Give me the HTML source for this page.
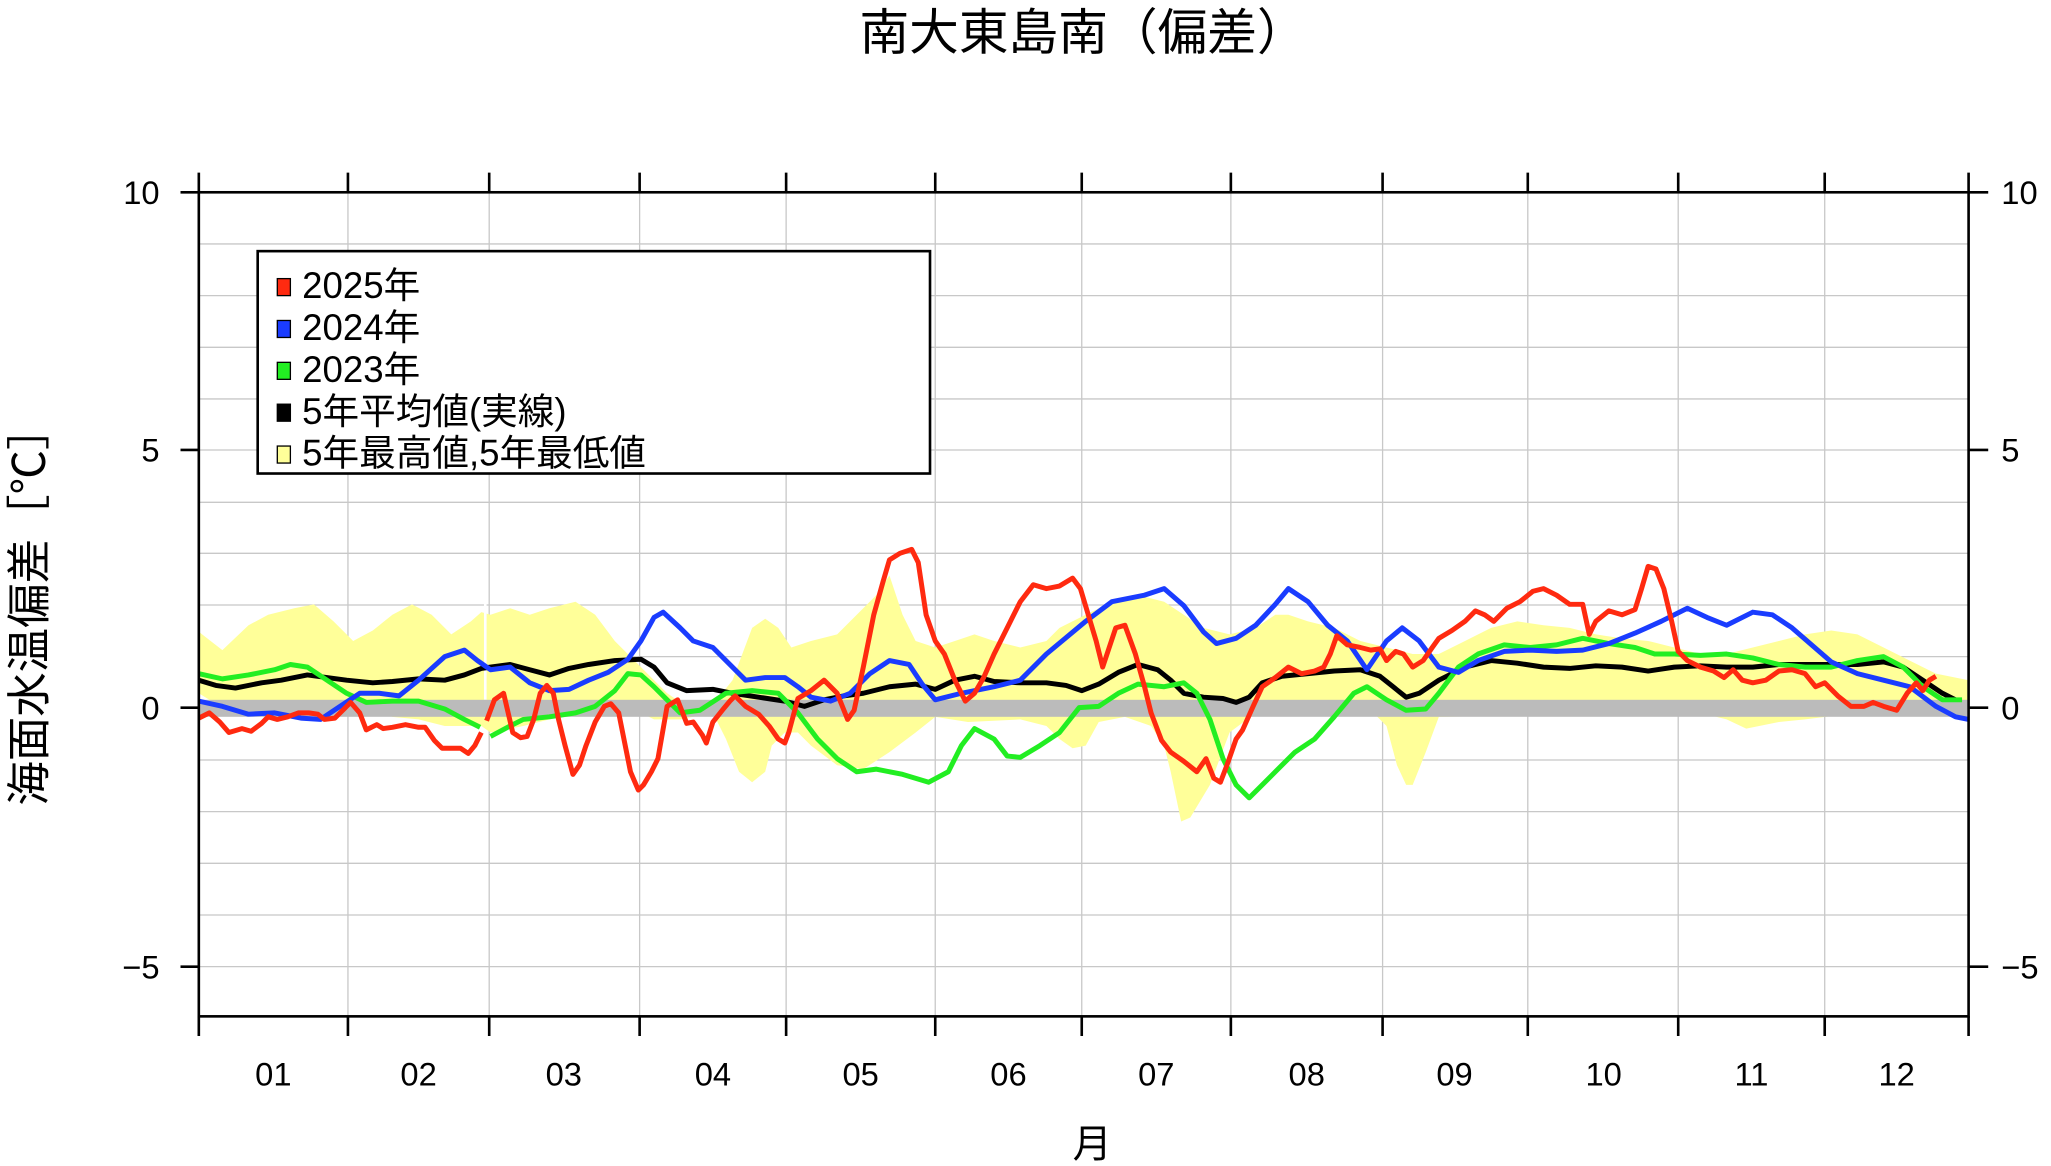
<!DOCTYPE html>
<html><head><meta charset="utf-8"><style>html,body{margin:0;padding:0;background:#fff}svg{display:block}text{font-family:"Liberation Sans","Noto Sans CJK JP",sans-serif;fill:#000}</style></head><body>
<svg width="2051" height="1166" viewBox="0 0 1568 891.4" preserveAspectRatio="none" xmlns="http://www.w3.org/2000/svg">
<text x="828" y="38" font-size="38" text-anchor="middle">南大東島南（偏差）</text>
<g stroke="#c8c8c8" stroke-width="1">
<line x1="152" x2="1505" y1="186.5" y2="186.5"/><line x1="152" x2="1505" y1="226" y2="226"/><line x1="152" x2="1505" y1="265.5" y2="265.5"/><line x1="152" x2="1505" y1="305" y2="305"/><line x1="152" x2="1505" y1="344" y2="344"/><line x1="152" x2="1505" y1="384" y2="384"/><line x1="152" x2="1505" y1="423" y2="423"/><line x1="152" x2="1505" y1="462.5" y2="462.5"/><line x1="152" x2="1505" y1="502" y2="502"/><line x1="152" x2="1505" y1="581" y2="581"/><line x1="152" x2="1505" y1="620.5" y2="620.5"/><line x1="152" x2="1505" y1="660" y2="660"/><line x1="152" x2="1505" y1="699.5" y2="699.5"/><line x1="152" x2="1505" y1="739" y2="739"/>
<line x1="266" x2="266" y1="147" y2="777"/><line x1="374" x2="374" y1="147" y2="777"/><line x1="489" x2="489" y1="147" y2="777"/><line x1="601" x2="601" y1="147" y2="777"/><line x1="715" x2="715" y1="147" y2="777"/><line x1="827" x2="827" y1="147" y2="777"/><line x1="941" x2="941" y1="147" y2="777"/><line x1="1057" x2="1057" y1="147" y2="777"/><line x1="1168" x2="1168" y1="147" y2="777"/><line x1="1283" x2="1283" y1="147" y2="777"/><line x1="1395" x2="1395" y1="147" y2="777"/>
</g>
<polygon fill="#ffff99" points="152,483 170,497 190,478 205,470 225,465 240,462 255,475 270,490 285,482 300,470 315,462 330,470 345,485 360,475 368,468 375,470 390,465 405,470 420,465 440,460 455,470 470,490 485,505 490,510 500,520 510,530 525,540 540,545 560,520 575,480 585,473 595,480 605,495 620,490 640,485 655,470 670,455 680,440 690,470 700,490 715,495 730,490 745,485 760,490 780,495 800,490 810,480 830,470 850,460 870,455 890,460 905,470 920,480 940,485 960,480 975,470 985,470 1000,475 1020,480 1040,490 1060,495 1080,500 1100,500 1120,490 1140,480 1160,475 1180,478 1200,480 1220,485 1240,488 1260,490 1280,495 1300,500 1320,500 1340,495 1360,490 1380,485 1400,482 1420,485 1440,495 1460,505 1480,515 1505,520 1505,545 1420,545 1380,550 1360,552 1335,557 1320,550 1300,545 1100,548 1090,575 1080,600 1075,600 1068,585 1060,555 1050,545 960,545 940,560 925,600 910,625 903,628 895,590 890,570 880,555 860,548 840,552 830,570 820,572 810,565 800,555 780,550 740,552 715,548 700,560 680,575 660,588 640,585 620,570 610,560 600,560 590,570 585,590 575,598 565,590 555,565 545,545 520,550 500,550 490,545 460,545 430,548 420,550 400,555 375,560 368,555 340,555 320,550 300,548 280,540 220,545 200,545 180,540 160,535 152,530"/>
<line x1="371" x2="371" y1="455" y2="535" stroke="#fff" stroke-width="2"/>
<rect x="152" y="535" width="1353" height="13" fill="#bbbbbb"/>
<g fill="none" stroke-width="3.8" stroke-linejoin="round">
<polyline stroke="#000" points="152,520 165,524 180,526 200,522 215,520 235,516 250,518 265,520 285,522 300,521 320,519 340,520 355,516 368,511 375,510 390,508 405,512 420,516 435,511 450,508 470,505 490,504 500,510 510,522 525,528 545,527 560,530 580,533 600,536 615,540 630,535 645,532 660,530 680,525 700,523 715,527 730,520 745,517 760,521 780,522 800,522 815,524 827,528 840,523 855,514 870,508 885,512 895,520 905,530 920,533 935,534 945,537 955,533 965,522 980,517 1000,515 1020,513 1040,512 1055,517 1065,525 1075,533 1085,530 1100,520 1120,510 1140,505 1160,507 1180,510 1200,511 1220,509 1240,510 1260,513 1280,510 1300,509 1320,510 1340,510 1360,508 1400,508 1420,508 1440,506 1455,510 1470,520 1485,530 1495,535"/>
<polyline stroke="#22ee22" points="152,515 170,519 190,516 210,512 222,508 235,510 250,520 265,530 280,537 300,536 320,536 340,542 355,550 367,556"/>
<polyline stroke="#22ee22" points="375,563 390,555 400,550 420,548 440,545 455,540 470,528 480,515 490,516 500,525 510,535 520,545 535,543 555,530 575,528 595,530 610,545 625,565 640,580 655,590 670,588 690,592 710,598 725,590 735,570 745,557 760,565 770,578 780,579 795,570 810,560 825,541 840,540 855,530 870,523 890,525 905,522 915,530 925,550 935,580 945,600 955,610 965,600 975,590 990,575 1005,565 1020,548 1035,530 1045,525 1060,535 1075,543 1090,542 1100,530 1115,510 1130,500 1150,493 1170,495 1190,493 1210,488 1230,492 1250,495 1265,500 1280,500 1300,501 1320,500 1340,503 1360,508 1380,510 1400,510 1420,505 1440,502 1455,510 1470,525 1485,535 1500,535"/>
<polyline stroke="#1a3cff" points="152,536 170,540 190,546 210,545 230,549 245,550 260,540 275,530 290,530 305,532 320,520 340,502 355,497 365,505 375,512 390,510 405,522 420,528 435,527 450,520 465,514 480,504 490,490 500,472 507,468 520,480 530,490 545,495 560,510 570,520 585,518 600,518 610,525 620,533 635,536 650,530 665,515 680,505 695,508 705,523 715,535 735,530 760,525 780,520 800,500 830,475 850,460 875,455 890,450 905,463 920,483 930,492 945,488 960,478 975,462 985,450 1000,460 1015,478 1030,490 1045,512 1060,490 1072,480 1085,490 1100,510 1115,514 1130,505 1150,498 1170,497 1190,498 1210,497 1230,492 1250,484 1270,475 1290,465 1305,472 1320,478 1340,468 1355,470 1370,480 1385,493 1400,506 1420,515 1440,520 1460,525 1480,540 1495,548 1505,550"/>
<polyline stroke="#ff2a10" points="152,549 160,545 168,552 175,560 185,557 192,559 200,553 205,548 212,550 220,548 228,545 236,545 243,546 248,550 256,549 263,542 268,537 275,545 280,558 288,554 293,557 300,556 310,554 320,556 325,556 332,566 338,572 345,572 352,572 358,576 363,570 368,560"/>
<polyline stroke="#ff2a10" points="372,551 378,535 385,530 392,560 398,564 403,563 408,550 413,530 418,524 423,530 427,550 432,570 438,592 443,585 448,570 455,552 462,540 467,538 473,545 478,570 482,590 488,604 492,600 498,590 503,580 510,540 518,535 525,553 530,552 537,562 540,568 545,552 553,542 558,536 562,532 570,540 580,546 588,555 595,565 600,568 603,560 610,534 620,528 630,520 640,530 648,550 653,543 660,510 668,470 675,445 680,428 688,423 697,420 702,430 708,470 715,490 722,500 730,520 738,536 745,530 752,518 760,500 770,480 780,460 790,447 800,450 810,448 820,442 826,450 832,470 838,490 843,510 848,495 853,480 860,478 868,500 875,525 880,545 888,566 895,575 905,582 915,590 922,580 928,595 933,598 938,585 945,565 950,558 958,540 965,525 975,518 985,510 995,515 1005,513 1012,510 1017,500 1022,486 1030,493 1040,495 1048,497 1055,496 1060,505 1067,498 1073,500 1080,510 1088,505 1095,495 1100,488 1110,482 1120,475 1128,467 1135,470 1142,475 1152,465 1162,460 1172,452 1180,450 1190,455 1200,462 1210,462 1215,485 1220,475 1230,467 1240,470 1250,466 1255,450 1260,433 1266,435 1272,450 1278,475 1283,498 1290,505 1300,510 1310,513 1318,518 1325,512 1332,520 1340,522 1350,520 1360,513 1370,512 1380,515 1388,525 1395,522 1405,532 1415,540 1425,540 1432,537 1440,540 1450,543 1458,530 1465,522 1470,528 1475,520 1480,517"/>
</g>
<g stroke="#000" stroke-width="2" fill="none">
<rect x="152" y="147" width="1353" height="630"/>
<line x1="138" x2="152" y1="147" y2="147"/><line x1="138" x2="152" y1="344" y2="344"/><line x1="138" x2="152" y1="541" y2="541"/><line x1="138" x2="152" y1="739" y2="739"/>
<line x1="1505" x2="1520" y1="147" y2="147"/><line x1="1505" x2="1520" y1="344" y2="344"/><line x1="1505" x2="1520" y1="541" y2="541"/><line x1="1505" x2="1520" y1="739" y2="739"/>
<path d="M152 132V147M266 132V147M374 132V147M489 132V147M601 132V147M715 132V147M827 132V147M941 132V147M1057 132V147M1168 132V147M1283 132V147M1395 132V147M1505 132V147"/>
<path d="M152 777V792M266 777V792M374 777V792M489 777V792M601 777V792M715 777V792M827 777V792M941 777V792M1057 777V792M1168 777V792M1283 777V792M1395 777V792M1505 777V792"/>
</g>
<g font-size="25">
<text x="122" y="156" text-anchor="end">10</text><text x="122" y="353" text-anchor="end">5</text><text x="122" y="550" text-anchor="end">0</text><text x="122" y="748" text-anchor="end">−5</text>
<text x="1530" y="156">10</text><text x="1530" y="353">5</text><text x="1530" y="550">0</text><text x="1530" y="748">−5</text>
<g text-anchor="middle"><text x="209" y="830">01</text><text x="320" y="830">02</text><text x="431" y="830">03</text><text x="545" y="830">04</text><text x="658" y="830">05</text><text x="771" y="830">06</text><text x="884" y="830">07</text><text x="999" y="830">08</text><text x="1112" y="830">09</text><text x="1226" y="830">10</text><text x="1339" y="830">11</text><text x="1450" y="830">12</text></g>
</g>
<text x="835" y="885" font-size="30" text-anchor="middle">月</text>
<text transform="translate(34,463) rotate(-90)" font-size="34" text-anchor="middle">海面水温偏差［℃］</text>
<rect x="197" y="192" width="514" height="170" fill="#fff" stroke="#000" stroke-width="2"/>
<g stroke="#000" stroke-width="1">
<rect x="212" y="213" width="10" height="13" fill="#ff2a10"/><rect x="212" y="245" width="10" height="13" fill="#1a3cff"/><rect x="212" y="277" width="10" height="13" fill="#22ee22"/><rect x="212" y="309" width="10" height="13" fill="#000"/><rect x="212" y="341" width="10" height="13" fill="#ffff99"/>
</g>
<g font-size="28"><text x="231" y="228">2025年</text><text x="231" y="260">2024年</text><text x="231" y="292">2023年</text><text x="231" y="324">5年平均値(実線)</text><text x="231" y="356">5年最高値,5年最低値</text></g>
</svg>
</body></html>
